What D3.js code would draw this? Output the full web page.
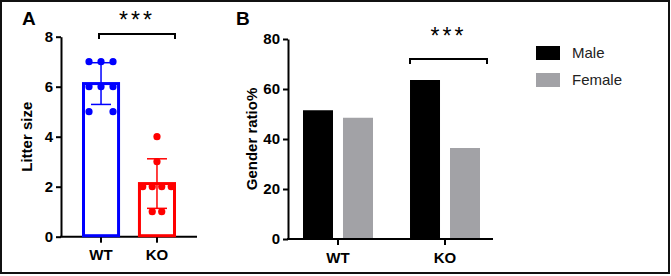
<!DOCTYPE html>
<html>
<head>
<meta charset="utf-8">
<script src="https://cdn.jsdelivr.net/npm/d3@7"></script>
<style>
  body { margin: 0; background: #fff; }
  svg { display: block; font-family: 'Liberation Sans', Arial, sans-serif; }
  .axis path, .axis line { stroke: #000; stroke-width: 2; }
  .axis text { font-size: 15px; font-weight: bold; fill: #000; }
</style>
</head>
<body>
<svg id="chart" width="671" height="276"></svg>
<script>
// Panel A : litter size per mouse
const groupsA = ['WT', 'KO']
const litterWT = [7, 7, 7, 6, 6, 6, 5, 5]
const litterKO = [4, 3, 2, 2, 2, 2, 1, 1]
const colorsA = ['#0000ff', '#ff0000']
const ticksA = [0, 2, 4, 6, 8]

// Panel B : gender ratio
const groupsB = ['WT', 'KO']
const sexes = ['Male', 'Female']
const maleRatio = [51.5, 63.6]
const femaleRatio = [48.5, 36.4]
const colorsB = ['#000000', '#a2a2a6']
const ticksB = [0, 20, 40, 60, 80]

const svg = d3.select('#chart')

// cadre autour de la figure
svg.append('rect')
  .attr('x', 1).attr('y', 1)
  .attr('width', 668).attr('height', 272)
  .attr('fill', 'none')
  .attr('stroke', '#111')
  .attr('stroke-width', 2)

/**
 * Draws a significance bracket with stars above it.
 */
function bracket (g, x1, x2, y, starsY) {
  g.append('path')
    .attr('d', `M${x1},${y + 5}V${y}H${x2}V${y + 5}`)
    .attr('fill', 'none')
    .attr('stroke', '#000')
    .attr('stroke-width', 2)
  g.append('text')
    .attr('x', (x1 + x2) / 2)
    .attr('y', starsY)
    .attr('text-anchor', 'middle')
    .style('font-size', '23px')
    .style('letter-spacing', '3px')
    .text('***')
}

// ---------- Panel A ----------
const gA = svg.append('g')
const dataA = [litterWT, litterKO].map((v, i) => {
  const mean = d3.mean(v)
  return { group: groupsA[i], values: v, mean: mean, sd: d3.deviation(v), color: colorsA[i] }
})

const xA = d3.scaleBand().domain(groupsA).range([82, 176]).paddingInner(0.32)
const yA = d3.scaleLinear().domain([0, 8]).range([236.7, 36.7])

gA.append('g')
  .attr('class', 'axis')
  .attr('transform', 'translate(61,0)')
  .call(d3.axisLeft(yA).tickValues(ticksA).tickSize(5).tickPadding(3).tickSizeOuter(0))

gA.append('line')
  .attr('x1', 60).attr('x2', 197)
  .attr('y1', yA(0)).attr('y2', yA(0))
  .attr('stroke', '#000').attr('stroke-width', 2)

const xAxisA = gA.append('g')
  .attr('class', 'axis')
  .attr('transform', `translate(0,${yA(0)})`)
  .call(d3.axisBottom(xA).tickSize(6).tickPadding(7).tickSizeOuter(0))
xAxisA.select('.domain').remove()

// barres (contour coloré)
gA.selectAll('.barA')
  .data(dataA)
  .join('rect')
  .attr('class', 'barA')
  .attr('x', d => xA(d.group) + 1.5)
  .attr('y', d => yA(d.mean))
  .attr('width', xA.bandwidth() - 3)
  .attr('height', d => yA(0) - yA(d.mean) - 1)
  .attr('fill', 'none')
  .attr('stroke', d => d.color)
  .attr('stroke-width', 3)

// barres d'erreur (SD)
dataA.forEach(d => {
  const cx = xA(d.group) + xA.bandwidth() / 2
  const eb = gA.append('g').attr('stroke', d.color).attr('stroke-width', 1.5)
  eb.append('line').attr('x1', cx).attr('x2', cx).attr('y1', yA(d.mean - d.sd)).attr('y2', yA(d.mean + d.sd))
  eb.append('line').attr('x1', cx - 10).attr('x2', cx + 10).attr('y1', yA(d.mean - d.sd)).attr('y2', yA(d.mean - d.sd))
  eb.append('line').attr('x1', cx - 10).attr('x2', cx + 10).attr('y1', yA(d.mean + d.sd)).attr('y2', yA(d.mean + d.sd))

  // points individuels, étalés horizontalement quand ils ont la même valeur
  const counts = d3.rollup(d.values, v => v.length, v => v)
  const seen = new Map()
  const pts = d.values.map(v => {
    const n = counts.get(v)
    const k = seen.get(v) || 0
    seen.set(v, k + 1)
    const spacing = n === 2 && d.group === 'WT' ? 24 : (d.group === 'WT' ? 12 : 9.5)
    return { v: v, x: cx + (k - (n - 1) / 2) * spacing }
  })
  gA.selectAll(null)
    .data(pts)
    .join('circle')
    .attr('cx', p => p.x)
    .attr('cy', p => yA(p.v))
    .attr('r', 3.6)
    .attr('fill', d.color)
})

bracket(gA, 99, 175, 34, 28)

gA.append('text')
  .attr('transform', `translate(32,${(yA(0) + yA(8)) / 2}) rotate(-90)`)
  .attr('text-anchor', 'middle')
  .style('font-size', '15px')
  .style('font-weight', 'bold')
  .text('Litter size')

gA.append('text')
  .attr('x', 22).attr('y', 25)
  .style('font-size', '19px')
  .style('font-weight', 'bold')
  .text('A')

// ---------- Panel B ----------
const gB = svg.append('g')
const dataB = groupsB.map((g, i) => ({ group: g, values: [maleRatio[i], femaleRatio[i]] }))

const xB = d3.scaleBand().domain(groupsB).range([303, 480]).paddingInner(0.346)
const xSub = d3.scaleBand().domain(sexes).range([0, xB.bandwidth()]).paddingInner(0.25)
const colorB = d3.scaleOrdinal().domain(sexes).range(colorsB)
const yB = d3.scaleLinear().domain([0, 80]).range([239, 39])

gB.append('g')
  .attr('class', 'axis')
  .attr('transform', 'translate(288,0)')
  .call(d3.axisLeft(yB).tickValues(ticksB).tickSize(5).tickPadding(3).tickSizeOuter(0))

gB.append('line')
  .attr('x1', 287).attr('x2', 493)
  .attr('y1', yB(0)).attr('y2', yB(0))
  .attr('stroke', '#000').attr('stroke-width', 2)

const xAxisB = gB.append('g')
  .attr('class', 'axis')
  .attr('transform', `translate(0,${yB(0)})`)
  .call(d3.axisBottom(xB).tickSize(6).tickPadding(7).tickSizeOuter(0))
xAxisB.select('.domain').remove()

gB.selectAll('.grp')
  .data(dataB)
  .join('g')
  .attr('class', 'grp')
  .attr('transform', d => `translate(${xB(d.group)},0)`)
  .selectAll('rect')
  .data(d => d.values.map((v, i) => ({ sex: sexes[i], value: v })))
  .join('rect')
  .attr('x', d => xSub(d.sex))
  .attr('y', d => yB(d.value))
  .attr('width', xSub.bandwidth())
  .attr('height', d => yB(0) - yB(d.value) - 1)
  .attr('fill', d => colorB(d.sex))

bracket(gB, 410, 487, 59, 44)

gB.append('text')
  .attr('transform', `translate(257,${(yB(0) + yB(80)) / 2}) rotate(-90)`)
  .attr('text-anchor', 'middle')
  .style('font-size', '15px')
  .style('font-weight', 'bold')
  .text('Gender ratio%')

gB.append('text')
  .attr('x', 236).attr('y', 25)
  .style('font-size', '19px')
  .style('font-weight', 'bold')
  .text('B')

// légende
const legend = gB.selectAll('.legend')
  .data(sexes)
  .join('g')
  .attr('class', 'legend')
  .attr('transform', (d, i) => `translate(536,${46 + i * 27})`)
legend.append('rect')
  .attr('width', 24).attr('height', 14)
  .attr('fill', d => colorB(d))
legend.append('text')
  .attr('x', 36).attr('y', 12)
  .style('font-size', '15px')
  .attr('fill', '#222')
  .text(d => d)
</script>
</body>
</html>
